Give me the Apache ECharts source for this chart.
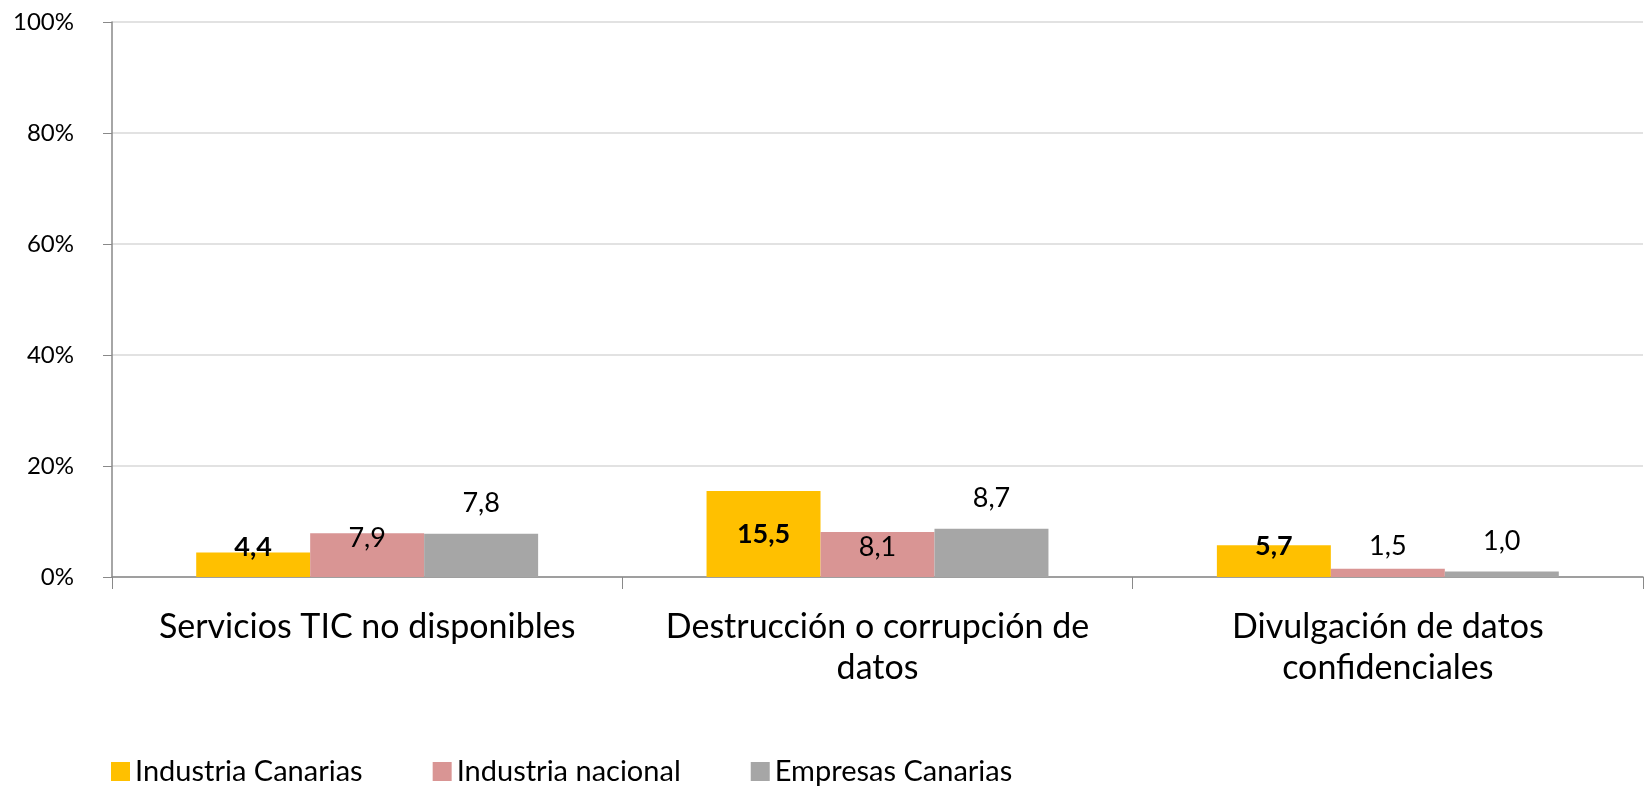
<!DOCTYPE html>
<html>
<head>
<meta charset="utf-8">
<script src="https://cdn.jsdelivr.net/npm/echarts@6/dist/echarts.min.js"></script>
<style>
	html, body { margin: 0; padding: 0; background: #fff; }
	#chart { width: 1646px; height: 789px; }
</style>
</head>
<body>
<div id="chart"></div>
<script>
var categories = ['Servicios TIC no disponibles', 'Destrucción o corrupción de\ndatos', 'Divulgación de datos\nconfidenciales'];
var seriesNames = ['Industria Canarias', 'Industria nacional', 'Empresas Canarias'];
var industriaCanarias = [4.4, 15.5, 5.7];
var industriaNacional = [7.9, 8.1, 1.5];
var empresasCanarias = [7.8, 8.7, 1.0];
var yTicks = [0, 20, 40, 60, 80, 100];

// label centre relative to bar top (px), as placed in the original
var labelShift = [[-5, 43, 1], [5, 15, -22], [-30, -30, -30]];
var colors = ['#FFC000', '#D99594', '#A6A6A6'];
var font = 'Lato';

var myChart = echarts.init(document.getElementById('chart'));

function makeSeries(idx, values) {
	return {
		name: seriesNames[idx],
		type: 'bar',
		barGap: '0%',
		barCategoryGap: '33%',
		itemStyle: { color: colors[idx] },
		data: values.map(function(v, i) {
			return {
				value: v,
				label: { offset: [0, labelShift[idx][i]] }
			};
		}),
		label: {
			show: true,
			position: 'top',
			distance: 0,
			verticalAlign: 'middle',
			fontFamily: font,
			fontSize: 27,
			color: '#000',
			fontWeight: idx === 0 ? 'bold' : 'normal',
			formatter: function(p) {
				return p.value.toFixed(1).replace('.', ',');
			}
		}
	};
}

var option = {
	animation: false,
	grid: { left: 112, right: 3, top: 22, bottom: 212 },
	legend: {
		left: 106,
		top: 752,
		itemWidth: 19,
		itemHeight: 19,
		itemGap: 70,
		icon: 'rect',
		textStyle: { fontFamily: font, fontSize: 29, color: '#000' },
		data: seriesNames
	},
	xAxis: {
		type: 'category',
		data: categories,
		axisLine: { lineStyle: { color: '#898989', width: 1.5 } },
		axisTick: { show: true, length: 12, lineStyle: { color: '#898989' } },
		axisLabel: {
			interval: 0,
			fontFamily: font,
			fontSize: 34,
			color: '#000',
			lineHeight: 41,
			margin: 30
		}
	},
	yAxis: {
		type: 'value',
		min: yTicks[0],
		max: yTicks[yTicks.length - 1],
		interval: 20,
		axisLine: { show: true, lineStyle: { color: '#898989', width: 1.5 } },
		axisTick: { show: true, length: 9, lineStyle: { color: '#898989' } },
		splitLine: { lineStyle: { color: '#D9D9D9', width: 1.5 } },
		axisLabel: {
			fontFamily: font,
			fontSize: 24,
			color: '#000',
			margin: 38,
			formatter: '{value}%'
		}
	},
	series: [
		makeSeries(0, industriaCanarias),
		makeSeries(1, industriaNacional),
		makeSeries(2, empresasCanarias)
	]
};
myChart.setOption(option);
</script>
</body>
</html>
